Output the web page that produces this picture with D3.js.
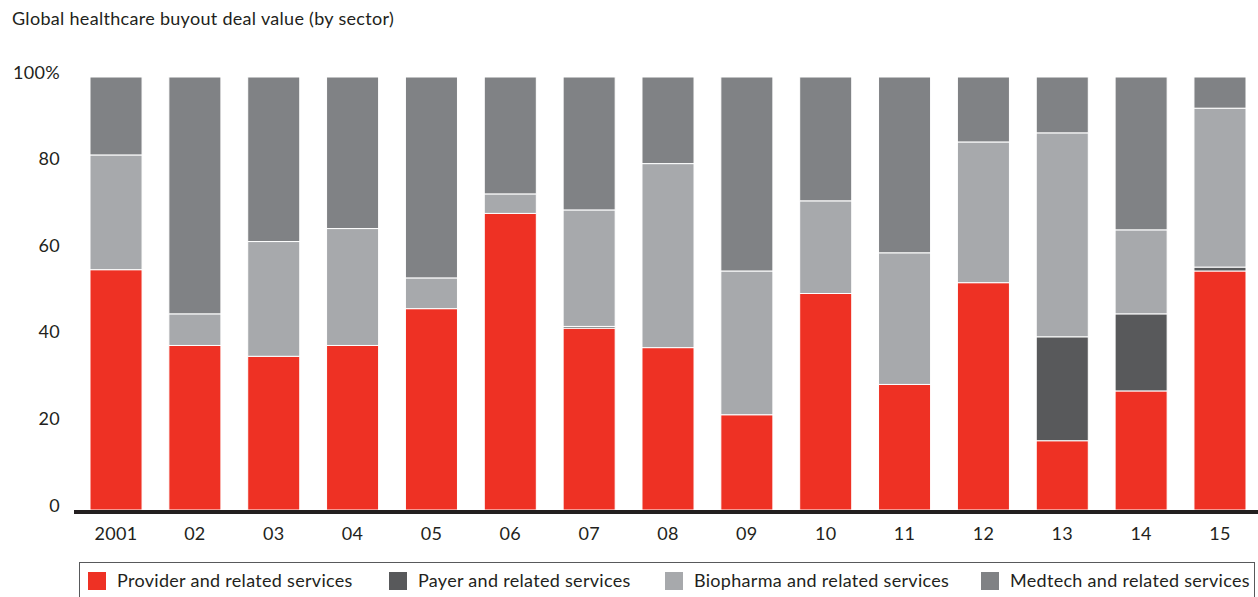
<!DOCTYPE html>
<html>
<head>
<meta charset="utf-8">
<script src="https://cdn.jsdelivr.net/npm/d3@7"></script>
<style>
  body { margin: 0; background: #fff; }
  svg text { font-family: Lato, "Open Sans", sans-serif; fill: #231f20; letter-spacing: 0.3px; }
</style>
</head>
<body>
<svg id="chart" width="1258" height="597"></svg>
<script>
// Data (percent of deal value)
const years = ["2001", "02", "03", "04", "05", "06", "07", "08", "09", "10", "11", "12", "13", "14", "15"];
const provider  = [55.5, 38, 35.5, 38, 46.5, 68.5, 42, 37.5, 22, 50, 29, 52.5, 16, 27.5, 55.2];
const payer     = [0, 0, 0, 0, 0, 0, 0.4, 0, 0, 0, 0, 0, 24, 17.8, 0.9];
const biopharma = [26.5, 7.3, 26.5, 27, 7.1, 4.5, 26.9, 42.5, 33.2, 21.4, 30.4, 32.5, 47.1, 19.4, 36.7];
const medtech   = years.map((y, i) => 100 - provider[i] - payer[i] - biopharma[i]);

const seriesNames = ["Provider and related services", "Payer and related services",
                     "Biopharma and related services", "Medtech and related services"];
const colors = ["#ee3124", "#58595b", "#a7a9ac", "#808285"];
const yTicks = [0, 20, 40, 60, 80, 100];

const svg = d3.select("#chart");

// Title
svg.append("text")
    .attr("x", 12)
    .attr("y", 25)
    .style("font-size", "18px")
    .text("Global healthcare buyout deal value (by sector)");

const x = d3.scaleBand()
    .domain(years)
    .range([76.6, 1259.4])
    .paddingInner(0.34)
    .paddingOuter(0.17);

const y = d3.scaleLinear()
    .domain([0, 100])
    .range([510, 77]);

// stack the four series
const rows = years.map((yr, i) => ({
    year: yr, s0: provider[i], s1: payer[i], s2: biopharma[i], s3: medtech[i]
}));
const stack = d3.stack().keys(["s0", "s1", "s2", "s3"])(rows);

svg.append("g")
    .selectAll("g")
    .data(stack)
    .join("g")
    .attr("fill", (d, i) => colors[i])
    .selectAll("rect")
    .data(d => d.filter(p => p[1] - p[0] > 0))
    .join("rect")
    .attr("x", d => x(d.data.year))
    .attr("y", d => y(d[1]))
    .attr("width", x.bandwidth())
    .attr("height", d => y(d[0]) - y(d[1]))
    .attr("stroke", "#fff")
    .attr("stroke-width", 1);

// Y tick labels
svg.append("g")
    .selectAll("text")
    .data(yTicks)
    .join("text")
    .attr("x", 60)
    .attr("y", d => y(d) - 3)
    .attr("text-anchor", "end")
    .attr("dominant-baseline", "middle")
    .style("font-size", "18px")
    .text(d => d === 100 ? "100%" : d);

// baseline
svg.append("line")
    .attr("x1", 74)
    .attr("x2", 1258)
    .attr("y1", 512)
    .attr("y2", 512)
    .attr("stroke", "#231f20")
    .attr("stroke-width", 4);

// X labels
svg.append("g")
    .selectAll("text")
    .data(years)
    .join("text")
    .attr("x", d => x(d) + x.bandwidth() / 2)
    .attr("y", 535)
    .attr("text-anchor", "middle")
    .attr("dominant-baseline", "middle")
    .style("font-size", "18px")
    .text(d => d);

// Legend
svg.append("rect")
    .attr("x", 79.5)
    .attr("y", 562.5)
    .attr("width", 1175)
    .attr("height", 40)
    .attr("fill", "none")
    .attr("stroke", "#58595b")
    .attr("stroke-width", 1);

const legendX = [88, 389, 665, 981];
const legend = svg.append("g")
    .selectAll("g")
    .data(seriesNames)
    .join("g")
    .attr("transform", (d, i) => `translate(${legendX[i]},572)`);

legend.append("rect")
    .attr("width", 18)
    .attr("height", 18)
    .attr("fill", (d, i) => colors[i]);

legend.append("text")
    .attr("x", 29)
    .attr("y", 10)
    .attr("dominant-baseline", "middle")
    .style("font-size", "18px")
    .text(d => d);
</script>
</body>
</html>
